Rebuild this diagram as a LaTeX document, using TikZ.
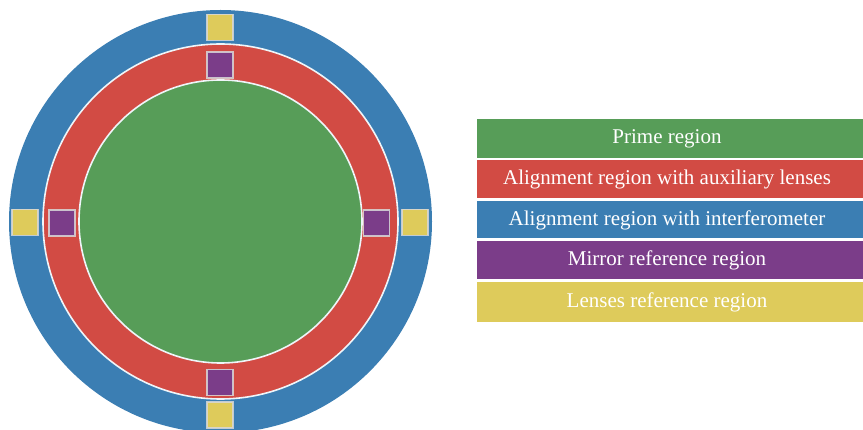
\documentclass[tikz,border=0pt]{standalone}
\usepackage{fontspec}
\setmainfont{Liberation Serif}
\definecolor{cgreen}{RGB}{87,157,88}
\definecolor{cred}{RGB}{210,75,68}
\definecolor{cblue}{RGB}{59,126,179}
\definecolor{cpurple}{RGB}{123,61,137}
\definecolor{cyellow}{RGB}{222,203,91}
\begin{document}
\begin{tikzpicture}[x=1pt,y=-1pt,
  ring/.style={draw=white!92!cblue,line width=1.6pt},
  marker/.style={draw=white!85!black,draw opacity=0.85,line width=1.8pt,minimum size=26pt,inner sep=0pt,outer sep=0pt},
  legbox/.style={inner sep=0pt},
  legtext/.style={text=white,font=\fontsize{21}{24}\selectfont,anchor=center,inner sep=0pt}]
\useasboundingbox (0,0) rectangle (863,430);
\begin{scope}
\clip (0,0) rectangle (863,430);
\coordinate (c) at (220.5,221.5);
\fill[cblue] (c) circle[radius=211.5];
\filldraw[cred,ring] (c) circle[radius=177.5];
\filldraw[cgreen,ring] (c) circle[radius=141.5];
% lens reference squares
\node[marker,fill=cyellow] (ytop) at (220,27.5) {};
\node[marker,fill=cyellow] (ybot) at (220,415) {};
\node[marker,fill=cyellow] (yleft) at (25,222.5) {};
\node[marker,fill=cyellow] (yright) at (415,222.5) {};
% mirror reference squares
\node[marker,fill=cpurple] (ptop) at (220,65) {};
\node[marker,fill=cpurple] (pbot) at (220,382.5) {};
\node[marker,fill=cpurple] (pleft) at (62,223) {};
\node[marker,fill=cpurple] (pright) at (376.5,223) {};
% legend
\fill[cgreen] (477,119) rectangle (863,158);
\fill[cred] (477,160.5) rectangle (863,198.5);
\fill[cblue] (477,201.5) rectangle (863,238.5);
\fill[cpurple] (477,241) rectangle (863,279);
\fill[cyellow] (477,282) rectangle (863,322);
\node[legtext] (l1) at (667,138.5) {Prime region};
\node[legtext] (l2) at (667,179.5) {Alignment region with auxiliary lenses};
\node[legtext] (l3) at (667,220) {Alignment region with interferometer};
\node[legtext] (l4) at (667,260) {Mirror reference region};
\node[legtext] (l5) at (667,302) {Lenses reference region};
\end{scope}
\end{tikzpicture}
\end{document}
